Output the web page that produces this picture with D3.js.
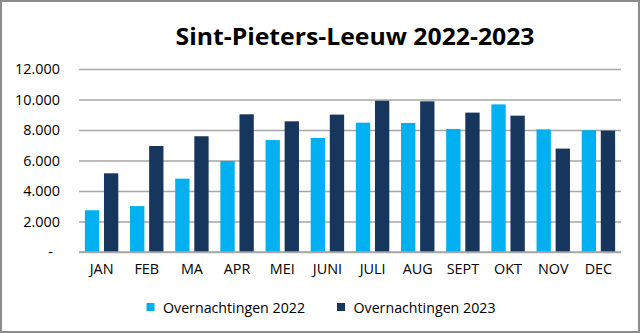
<!DOCTYPE html>
<html>
<head>
<meta charset="utf-8">
<script src="https://cdn.jsdelivr.net/npm/d3@7"></script>
<style>
  html, body { margin: 0; padding: 0; background: #fff; }
  svg { display: block; font-family: "Open Sans", "Noto Sans", sans-serif; }
</style>
</head>
<body>
<svg id="chart" width="640" height="333"></svg>
<script>
// Overnachtingen per maand, Sint-Pieters-Leeuw
const months = ["JAN", "FEB", "MA", "APR", "MEI", "JUNI", "JULI", "AUG", "SEPT", "OKT", "NOV", "DEC"];
const series = ["Overnachtingen 2022", "Overnachtingen 2023"];
const values2022 = [2740, 3010, 4810, 5970, 7340, 7480, 8480, 8460, 8070, 9680, 8040, 7980];
const values2023 = [5160, 6950, 7590, 9030, 8570, 9010, 9920, 9880, 9140, 8940, 6780, 7960];
const yTicks = [0, 2000, 4000, 6000, 8000, 10000, 12000];
const colors = ["#00B0F0", "#17365D"];

const svg = d3.select("#chart");
const W = 640, H = 333;
const plot = { left: 79, right: 621, top: 69, bottom: 252 };

// frame
svg.append("rect")
  .attr("x", 1).attr("y", 1).attr("width", W - 2).attr("height", H - 2)
  .attr("fill", "#fff").attr("stroke", "#8c8c8c").attr("stroke-width", 2);

// title
svg.append("text")
  .attr("x", 175.5).attr("y", 45)
  .attr("font-size", 24).attr("font-weight", 700).attr("fill", "#000")
  .attr("textLength", 359).attr("lengthAdjust", "spacingAndGlyphs")
  .text("Sint-Pieters-Leeuw 2022-2023");

const y = d3.scaleLinear().domain([0, 12000]).range([plot.bottom, plot.top]);
const x0 = d3.scaleBand().domain(months).range([plot.left, plot.right])
  .paddingInner(0.26).paddingOuter(0.13);
const x1 = d3.scaleBand().domain(series).range([0, x0.bandwidth()]).paddingInner(0.25);

const fmt = v => v === 0 ? "-" : d3.format(",")(v).replace(/,/g, ".");

// gridlines
const yAxis = d3.axisLeft(y).tickValues(yTicks)
  .tickSize(-(plot.right - plot.left)).tickFormat(fmt).tickPadding(19);
const gy = svg.append("g").attr("transform", `translate(${plot.left},0)`).call(yAxis);
gy.select(".domain").remove();
gy.selectAll(".tick line").attr("stroke", "#a6a6a6").attr("stroke-width", 1.5);
gy.selectAll(".tick text")
  .attr("font-size", 14.4).attr("fill", "#000")
  .attr("font-family", "'Open Sans', sans-serif")
  .attr("dx", d => d === 0 ? -7 : 0);

// bars
const rows = months.map((m, i) => ({ month: m, vals: [values2022[i], values2023[i]] }));
const groups = svg.append("g").selectAll("g").data(rows).join("g")
  .attr("transform", d => `translate(${x0(d.month)},0)`);
groups.selectAll("rect")
  .data(d => d.vals.map((v, k) => ({ key: series[k], v, k })))
  .join("rect")
  .attr("x", d => x1(d.key))
  .attr("width", x1.bandwidth())
  .attr("y", d => y(d.v))
  .attr("height", d => y(0) - y(d.v))
  .attr("fill", d => colors[d.k]);

// x axis labels
const xAxis = d3.axisBottom(x0).tickSize(0).tickPadding(12);
const gx = svg.append("g").attr("transform", `translate(0,${plot.bottom})`).call(xAxis);
gx.select(".domain").remove();
gx.selectAll(".tick text")
  .attr("font-size", 14.4).attr("fill", "#000")
  .attr("font-family", "'Open Sans', sans-serif");

// baseline on top of bars
svg.append("line")
  .attr("x1", plot.left).attr("x2", plot.right)
  .attr("y1", y(0)).attr("y2", y(0))
  .attr("stroke", "#a6a6a6").attr("stroke-width", 1.5);

// legend
const legendX = [146.5, 337];
const lg = svg.append("g").selectAll("g").data(series).join("g")
  .attr("transform", (d, i) => `translate(${legendX[i]},303)`);
lg.append("rect").attr("width", 8).attr("height", 8).attr("fill", (d, i) => colors[i]);
lg.append("text")
  .attr("x", 16.5).attr("y", 9.5)
  .attr("font-size", 14.4).attr("fill", "#000")
  .attr("textLength", 142).attr("lengthAdjust", "spacingAndGlyphs")
  .text(d => d);
</script>
</body>
</html>
